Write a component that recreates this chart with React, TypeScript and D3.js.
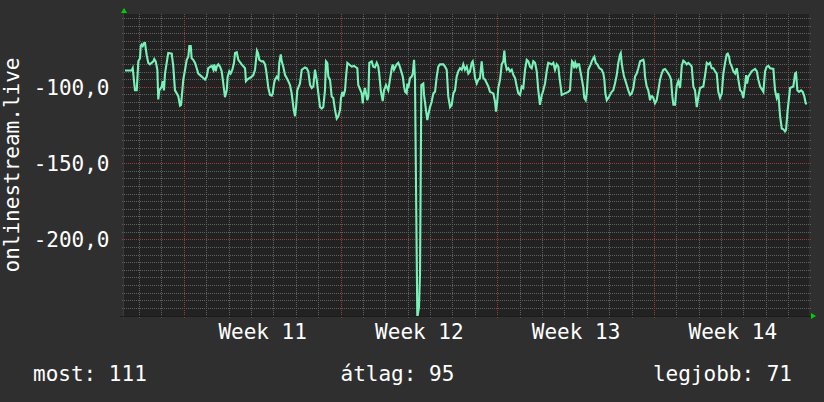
import React from "react";
import * as d3 from "d3";

// Hours since Monday of ISO week 11 (2024-03-11 00:00 UTC), and the series values
const hours: number[] = [
  -63.6, -56.4, -55.3, -52.9, -51.0, -49.3, -47.5, -46.7, -45.7, -44.6, -43.2, -42.1, -41.1, -40.3, -38.6, -36.8, -33.2, -32.2, -30.7, -28.9,
  -27.9, -26.8, -24.2, -23.2, -21.8, -20.7, -18.9, -17.2, -13.5, -11.8, -10.0, -8.1, -6.4, -4.6, -3.5, -2.1, -1.1, 0.8, 2.6, 4.3,
  5.4, 6.9, 7.9, 9.6, 11.5, 13.3, 15.0, 18.7, 22.2, 24.0, 25.7, 29.4, 31.1, 32.2, 33.7, 34.7, 36.5, 38.3, 40.1, 41.8,
  43.6, 45.5, 46.5, 48.2, 49.7, 51.5, 53.3, 54.4, 56.2, 57.9, 61.5, 65.1, 66.1, 67.5, 72.3, 74.0, 75.8, 76.9, 77.9, 79.0,
  80.4, 83.0, 84.7, 86.5, 87.6, 89.0, 90.1, 91.9, 93.7, 94.8, 96.2, 97.2, 99.1, 100.8, 101.8, 103.4, 104.4, 106.1, 108.0, 109.8,
  111.5, 113.3, 115.1, 116.9, 118.7, 119.8, 121.1, 124.0, 125.9, 129.4, 131.2, 132.9, 134.8, 136.6, 138.3, 140.1, 141.9, 143.7, 145.5, 147.3,
  149.0, 150.8, 151.9, 153.3, 154.4, 156.2, 158.0, 159.7, 161.6, 163.4, 165.1, 166.9, 168.0, 169.4, 170.5, 172.3, 173.4, 174.8, 179.5, 181.9,
  185.5, 186.5, 190.2, 191.3, 191.9, 193.7, 194.8, 196.2, 197.3, 198.3, 200.9, 202.6, 204.4, 206.3, 208.0, 209.1, 210.6, 212.7, 214.1, 216.2,
  218.7, 220.5, 222.4, 223.4, 224.8, 227.7, 229.4, 231.3, 234.2, 235.6, 236.7, 238.4, 239.1, 240.1, 242.0, 243.8, 244.9, 246.3, 247.3, 249.8,
  251.6, 252.7, 254.1, 256.2, 257.0, 259.1, 260.5, 261.6, 263.4, 265.2, 267.0, 268.8, 270.6, 272.3, 274.1, 277.7, 279.5, 281.3, 283.0, 284.9,
  286.7, 288.4, 290.2, 292.0, 293.8, 295.6, 297.4, 299.1, 300.9, 302.8, 304.5, 306.3, 308.1, 309.2, 310.6, 311.7, 313.5, 315.2, 317.0, 318.8,
  320.6, 322.4, 325.9, 327.7, 331.3, 333.1, 334.2, 335.6, 336.6, 338.5, 340.3, 342.0, 343.1, 344.1, 345.7, 347.4, 349.2, 351.0, 352.8, 354.6,
  356.4, 358.1, 359.9, 361.7, 363.4, 365.3, 367.1, 368.8, 370.6, 372.4, 374.2, 376.0, 377.8, 379.5, 381.3, 383.1, 384.9, 386.7, 388.5, 390.2,
  393.9, 395.6, 397.4, 399.2, 401.0, 402.1, 403.5, 404.6, 408.2, 411.7, 413.5, 414.6, 415.7, 417.0, 418.1, 419.2, 420.7, 421.8, 423.2, 424.3,
  426.0, 427.8, 428.8, 430.3, 431.4, 433.1, 435.7, 436.8, 438.5, 439.6, 441.1, 442.8, 445.0, 447.5, 449.2, 450.3, 451.4, 452.9, 454.6, 458.2,
  459.9, 461.7, 463.6, 465.3, 467.1, 467.9, 468.9, 470.0, 471.4, 472.5, 474.3, 476.0, 477.9, 479.7, 481.4, 483.2, 485.0, 486.7, 488.6, 492.1,
  492.9, 493.9, 495.7, 497.4, 499.3, 500.3, 501.7, 502.8, 504.6, 506.4, 508.2, 510.0, 511.8, 513.5, 515.4, 517.2, 518.9, 520.7, 521.8, 523.2,
  524.3, 526.1, 527.9, 529.6, 531.5, 533.3, 535.0, 536.8, 538.6, 540.3, 542.2, 544.0, 545.7, 547.5, 549.4, 551.1, 552.9, 556.4, 558.3, 560.1,
  561.8, 563.6, 565.4, 567.1, 569.0, 570.8, 572.5, 574.3, 576.2, 577.9, 579.7, 581.5, 582.6, 584.0, 585.1, 586.9, 588.6, 590.5, 592.3, 594.0,
  595.9, 597.6, 599.3, 601.2, 602.3, 603.3, 604.7, 608.3, 611.9, 613.7, 615.4, 617.3, 620.8, 622.6, 624.4, 626.1, 628.0, 631.5, 633.3, 635.1,
  636.8, 638.7, 640.5, 642.2, 644.0, 645.1, 646.5, 647.6, 649.4, 652.9, 654.8, 655.8, 657.2, 659.0, 661.2, 663.0, 664.7, 666.2, 667.3,
];

const values: number[] = [
  -89, -89, -87.5, -102, -102, -83, -81, -73, -72, -73, -71, -71, -75.5, -79, -84, -85, -83, -81.5, -83, -88.5,
  -108, -102, -99.5, -96, -102, -91, -84, -77.5, -78, -86.5, -102, -104, -106, -112, -111.5, -102, -95, -88.5, -82, -80,
  -73, -73, -81, -82, -84, -87.5, -91, -93, -95, -93, -87.5, -86, -88.5, -85, -89.5, -86.5, -85, -86.5, -89.5, -97.5,
  -106.5, -102, -93, -89.5, -91, -88.5, -84, -77.5, -77, -82, -85, -87.5, -96, -95, -93, -92, -88.5, -82, -76, -77.5,
  -82, -83, -83, -85, -88.5, -95, -100.5, -105, -105.5, -104, -97.5, -95, -93, -94.5, -84, -78.5, -83, -86.5, -92, -94,
  -96, -98.5, -104, -113, -119, -113, -102, -97.5, -88.5, -87, -87.5, -89.5, -98.5, -100.5, -99.5, -88.5, -95, -104, -113, -114,
  -113, -102, -83, -84, -93, -95, -106, -107, -115, -120.5, -119, -115, -107, -103, -106, -102, -93, -84, -86.5, -86,
  -87.5, -98.5, -104, -110.5, -106, -100.5, -104, -108.5, -106, -84, -83, -86.5, -87, -84, -86.5, -92, -102, -109, -102, -98.5,
  -102, -95, -87.5, -85, -88.5, -85, -84, -87, -93, -99.5, -103, -104, -97.5, -100.5, -94, -93, -91, -82, -95, -251,
  -244, -222, -98.5, -97.5, -105, -115, -121.5, -118, -113, -109.5, -104, -103, -93, -86.5, -85, -85, -86.5, -88.5, -106, -113,
  -111.5, -104, -102, -93, -89.5, -87.5, -88.5, -85, -88.5, -86.5, -91, -89.5, -84, -83, -88.5, -94, -97.5, -95, -94, -83,
  -94, -95, -99.5, -103, -104, -109.5, -116, -108.5, -100.5, -95, -85, -83, -76, -84, -88.5, -87.5, -89.5, -88.5, -92, -94,
  -99.5, -104, -105, -99.5, -100.5, -88.5, -82, -83, -86.5, -87.5, -83, -84, -89.5, -102, -111.5, -105.5, -102, -97.5, -89.5, -84,
  -85, -84, -88.5, -85, -86.5, -93, -99.5, -105, -104, -103, -102, -91, -83, -84, -87.5, -84, -86.5, -85, -85, -88.5,
  -94, -100.5, -107, -108.5, -104, -88.5, -85, -83, -81, -80, -84, -85, -87.5, -88.5, -91, -95, -104, -108.5, -107, -103,
  -102, -97.5, -92, -84, -78.5, -77.5, -84, -88.5, -93, -95, -98.5, -102, -105, -104, -100.5, -93, -91, -87.5, -83, -82,
  -84, -93, -99.5, -102, -108.5, -106, -106, -107, -110.5, -108.5, -102, -95, -91, -88.5, -88, -89.5, -91, -93, -95, -106,
  -111.5, -111.5, -99, -96, -100.5, -86, -82.5, -83.5, -85, -84, -85, -86.5, -99.5, -102, -113, -106, -100.5, -99.5, -92, -84,
  -85, -84, -87.5, -87.5, -89.5, -91, -103, -107, -104, -91, -84, -78.5, -78, -80, -84, -86.5, -89.5, -91, -87.5, -95,
  -102, -103, -107, -98.5, -92, -97.5, -93, -89.5, -88, -89.5, -95, -99.5, -103, -89.5, -86.5, -86, -87.5, -88, -102, -107,
  -104, -119, -127, -127.5, -129, -128, -117, -110.5, -100.5, -99.5, -91, -90.5, -102, -103, -102, -103, -106, -110.5, -111,
];

const yMajorTicks: number[] = [-100, -150, -200];
const yAxisTitle = "onlinestream.live";
const legendLabels: string[] = ["most", "átlag", "legjobb"];
const legendValues: number[] = [111, 95, 71];

const WEEK11_START = Date.UTC(2024, 2, 11);
const HOUR = 3600 * 1000;
const RANGE_START_H = -64.65;
const RANGE_END_H = 669.7;
const Y_DOMAIN: [number, number] = [-249.6, -52.3];

const FONT = "'DejaVu Sans Mono', monospace";

export default function App() {
  const W = 824;
  const H = 402;
  const left = 124;
  const right = 809;
  const top = 14.5;
  const bottom = 315.5;

  const x = d3
    .scaleUtc()
    .domain([new Date(WEEK11_START + RANGE_START_H * HOUR), new Date(WEEK11_START + RANGE_END_H * HOUR)])
    .range([left, right]);
  const y = d3.scaleLinear().domain(Y_DOMAIN).range([bottom, top]);

  const data = hours.map((h, i) => ({ t: new Date(WEEK11_START + h * HOUR), v: values[i] }));
  const line = d3
    .line<{ t: Date; v: number }>()
    .x((d) => x(d.t))
    .y((d) => y(d.v));

  const [d0, d1] = x.domain();
  const days = d3.utcDay.range(d0, d1);
  const weeks = d3.utcMonday.range(d0, d1);
  const weekLabelCenters = d3.utcMonday
    .range(d3.utcMonday.offset(d0, -1), d1)
    .map((w) => new Date(w.getTime() + 3.5 * 24 * HOUR))
    .filter((c) => c >= d0 && c <= d1);

  const minorY = d3.range(-245, -50, 5).filter((v) => v % 50 !== 0 && y(v) > top && y(v) < bottom);
  const fmtY = (v: number) => d3.format(".1f")(v).replace("−", "-").replace(".", ",");
  const fmtWeek = d3.utcFormat("%V");

  // pixel-centred coordinate
  const px = (p: number) => Math.floor(p) + 0.5;
  const gTop = 14;
  const gBottom = 316;

  return (
    <svg
      width={W}
      height={H}
      style={{ position: "absolute", left: 0, top: 0, background: "#2f2f2f" }}
      fontFamily={FONT}
    >
      <defs>
        <clipPath id="plotclip">
          <rect x={left} y={gTop} width={right - left} height={gBottom - gTop} />
        </clipPath>
      </defs>
      <rect x={0} y={0} width={W} height={H} fill="#2f2f2f" />
      <rect x={left} y={gTop} width={right - left} height={gBottom - gTop} fill="#222222" />

      <g shapeRendering="crispEdges">
        {/* minor horizontal grid */}
        {minorY.map((v) => (
          <g key={"my" + v}>
            <line x1={left} x2={right + 2} y1={px(y(v))} y2={px(y(v))} stroke="#606060" strokeDasharray="1 1" />
            <line x1={left - 2} x2={left} y1={px(y(v))} y2={px(y(v))} stroke="#555555" />
          </g>
        ))}
        {/* minor vertical grid (days) */}
        {days.map((d) => (
          <g key={"dx" + d.getTime()}>
            <line x1={px(x(d))} x2={px(x(d))} y1={gTop} y2={gBottom} stroke="#606060" strokeDasharray="1 1" />
            <line x1={px(x(d))} x2={px(x(d))} y1={gBottom} y2={gBottom + 2} stroke="#555555" />
          </g>
        ))}
        {/* major horizontal grid */}
        {yMajorTicks.map((v) => (
          <line
            key={"My" + v}
            x1={left - 2}
            x2={right + 2}
            y1={px(y(v))}
            y2={px(y(v))}
            stroke="#9a3c3c"
            strokeDasharray="1 1"
          />
        ))}
        {/* major vertical grid (weeks) */}
        {weeks.map((d) => (
          <line
            key={"wx" + d.getTime()}
            x1={px(x(d))}
            x2={px(x(d))}
            y1={gTop}
            y2={gBottom + 2}
            stroke="#9a3c3c"
            strokeDasharray="1 1"
          />
        ))}

        {/* axes */}
        <line x1={left - 0.5} x2={left - 0.5} y1={gTop - 3} y2={gBottom + 3} stroke="#3a3a3a" />
        <line x1={left - 4} x2={right + 3} y1={gBottom + 0.5} y2={gBottom + 0.5} stroke="#1c1c1c" />
      </g>

      {/* data line */}
      <g clipPath="url(#plotclip)">
        <path d={line(data) ?? ""} fill="none" stroke="#78f2b8" strokeWidth={2.1} strokeLinejoin="miter" />
      </g>

      {/* arrows */}
      <polygon points={`${left - 3},${gTop - 1} ${left + 3},${gTop - 1} ${left},${gTop - 6}`} fill="#00d000" />
      <polygon points={`${right + 2},${gBottom - 3} ${right + 2},${gBottom + 3} ${right + 7},${gBottom}`} fill="#00d000" />

      {/* y tick labels */}
      {yMajorTicks.map((v) => (
        <text key={"yl" + v} x={109.5} y={y(v) + 7.5} fill="#ffffff" fontSize={21} textAnchor="end">
          {fmtY(v)}
        </text>
      ))}

      {/* y axis title */}
      <text
        transform={`translate(18.5, ${(top + bottom) / 2}) rotate(-90)`}
        fill="#ffffff"
        fontSize={21}
        textAnchor="middle"
      >
        {yAxisTitle}
      </text>

      {/* week labels */}
      {weekLabelCenters.map((c) => (
        <text key={"wl" + c.getTime()} x={x(c)} y={339} fill="#ffffff" fontSize={21} textAnchor="middle">
          {"Week " + fmtWeek(new Date(c.getTime() - 3.5 * 24 * HOUR))}
        </text>
      ))}

      {/* legend */}
      <text x={33} y={381} fill="#ffffff" fontSize={21} textAnchor="start">
        {`${legendLabels[0]}: ${legendValues[0]}`}
      </text>
      <text x={340.5} y={381} fill="#ffffff" fontSize={21} textAnchor="start">
        {`${legendLabels[1]}: ${legendValues[1]}`}
      </text>
      <text x={792} y={381} fill="#ffffff" fontSize={21} textAnchor="end">
        {`${legendLabels[2]}: ${legendValues[2]}`}
      </text>
    </svg>
  );
}
